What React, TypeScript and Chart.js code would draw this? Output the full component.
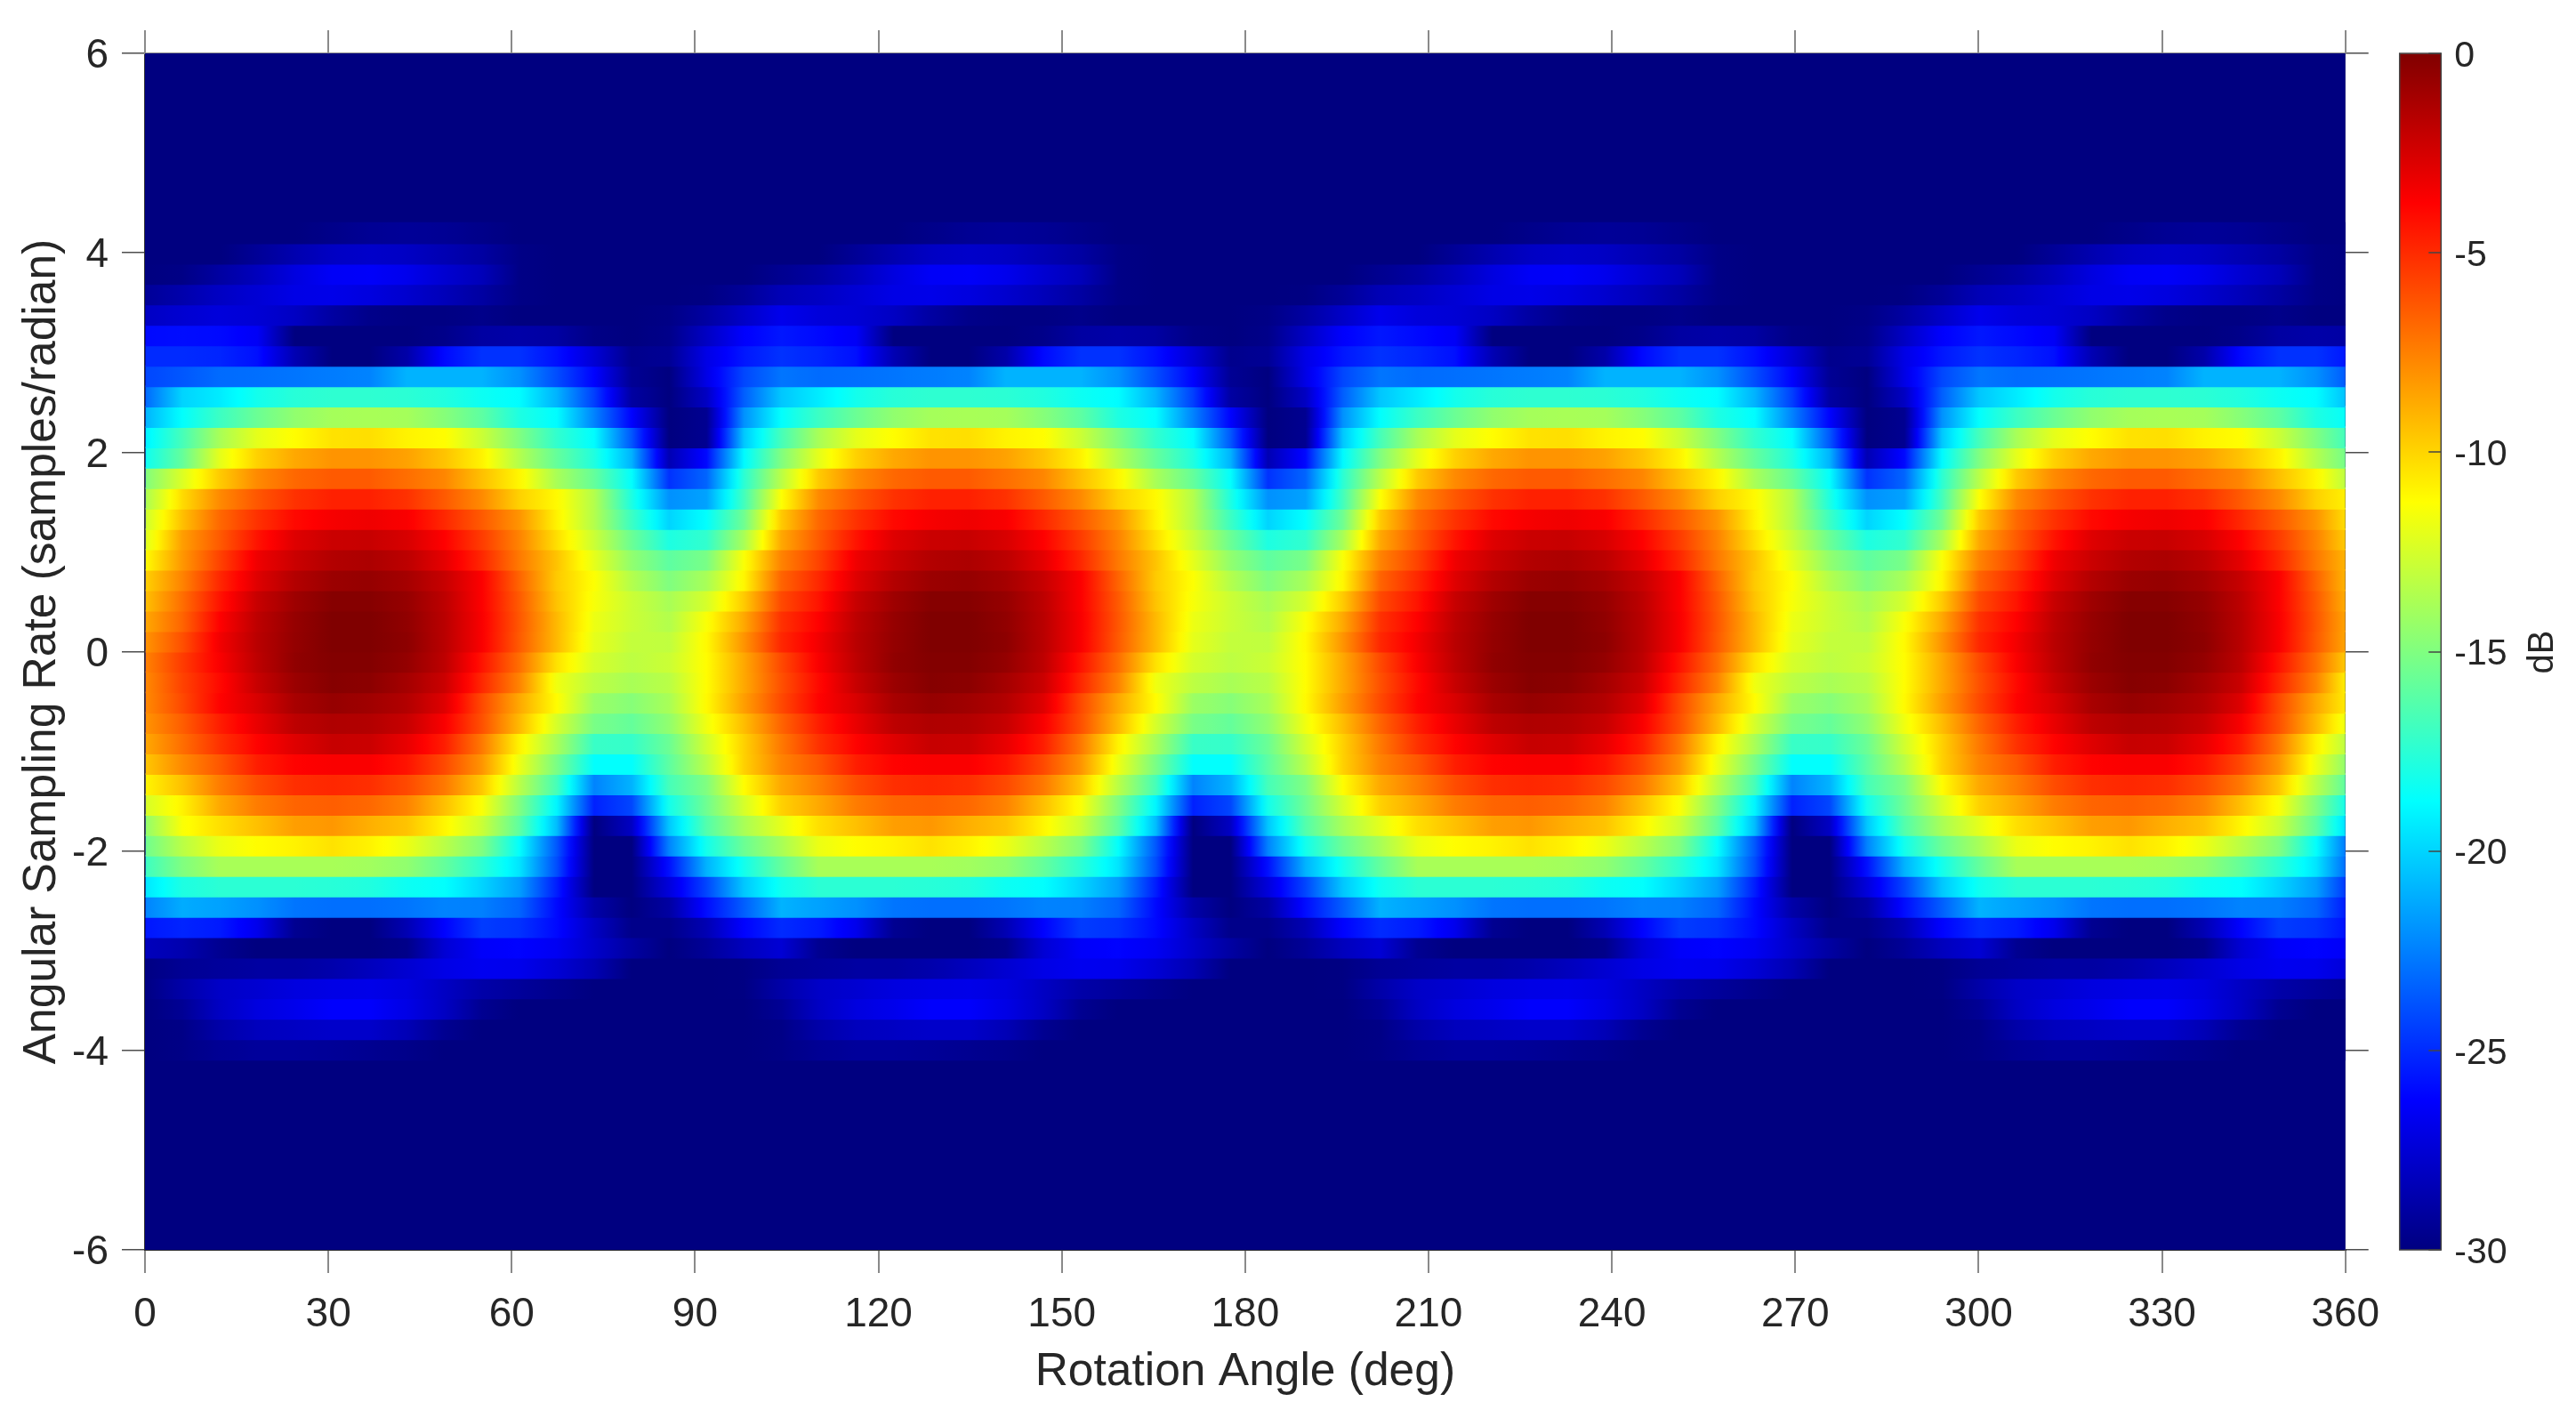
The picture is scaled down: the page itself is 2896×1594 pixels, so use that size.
// App.tsx - beam pattern heat map, drawn as one floating bar per sampling-rate row
import { useEffect, useRef } from 'react';
import { Chart, registerables } from 'chart.js';

Chart.register(...registerables);

const angles = [0, 6.125, 12.25, 18.375, 24.5, 30.625, 36.75, 42.875, 49, 55.125, 61.25, 67.375, 73.5, 79.625, 85.75, 91.875, 98, 104.125, 110.25, 116.375, 122.5, 128.625, 134.75, 140.875, 147, 153.125, 159.25, 165.375, 171.5, 177.625, 183.75, 189.875, 196, 202.125, 208.25, 214.375, 220.5, 226.625, 232.75, 238.875, 245, 251.125, 257.25, 263.375, 269.5, 275.625, 281.75, 287.875, 294, 300.125, 306.25, 312.375, 318.5, 324.625, 330.75, 336.875, 343, 349.125, 355.25, 361.375];

const rates = [4.196, 3.991, 3.787, 3.582, 3.377, 3.173, 2.968, 2.763, 2.559, 2.354, 2.149, 1.945, 1.74, 1.535, 1.331, 1.126, 0.921, 0.716, 0.512, 0.307, 0.102, -0.102, -0.307, -0.512, -0.716, -0.921, -1.126, -1.331, -1.535, -1.74, -1.945, -2.149, -2.354, -2.559, -2.763, -2.968, -3.173, -3.377, -3.582, -3.787, -3.991];

// dB below peak, one list per row, top row first
const row20 = [30,30,30,30,30,29.7,29.4,29.3,29.4,29.7,30,30,30,30,30,30, 30,30,30,30,30,29.7,29.4,29.3,29.4,29.7,30,30,30,30,30,30, 30,30,30,30,30,29.7,29.4,29.3,29.4,29.7,30,30,30,30,30,30, 30,30,30,30,30,29.7,29.4,29.3,29.4,29.7,30,30];
const row19 = [30,30,30,29.3,28.6,28,27.8,28,28.5,29,29.8,30,30,30,30,30, 30,30,30,29.3,28.6,28,27.8,28,28.5,29,29.8,30,30,30,30,30, 30,30,30,29.3,28.6,28,27.8,28,28.5,29,29.8,30,30,30,30,30, 30,30,30,29.3,28.6,28,27.8,28,28.5,29,29.8,30];
const row18 = [30,29.8,29,28.2,27.2,26.5,26.4,26.8,27.6,28.3,29.8,30,30,30,30,30, 30,29.5,29,28.2,27.2,26.5,26.4,26.8,27.6,28.3,29.8,30,30,30,30,30, 30,29.5,29,28.2,27.2,26.5,26.4,26.8,27.6,28.3,29.8,30,30,30,30,30, 30,29.5,29,28.2,27.2,26.5,26.4,26.8,27.6,28.3,29.8,30];
const row17 = [29.3,28.7,28,27.5,27,26.9,27.2,27.7,28.3,29,29.8,30,30,30,30,29.9, 29.3,28.4,28,27.5,27,26.9,27.2,27.7,28.3,29,29.8,30,30,30,30,29.9, 29.3,28.4,28,27.5,27,26.9,27.2,27.7,28.3,29,29.8,30,30,30,30,29.9, 29.3,28.4,28,27.5,27,26.9,27.2,27.7,28.3,29,29.8,30];
const row16 = [28,27.6,27.3,27.5,28,29,29.7,29.9,29.9,29.7,30,30,30,30,29.8,29, 27.9,26.8,27.3,27.5,28,29,29.7,29.9,29.9,29.7,30,30,30,30,29.8,29, 27.9,26.8,27.3,27.5,28,29,29.7,29.9,29.9,29.7,30,30,30,30,29.8,29, 27.9,26.8,27.3,27.5,28,29,29.7,29.9,29.9,29.7,30,30];
const row15 = [26,25.9,26,26.5,30,30,30,30,29.7,29,28.8,29,29.8,30,29.7,28, 26.3,25.6,26,26.5,30,30,30,30,29.7,29,28.8,29,29.8,30,29.7,28, 26.3,25.6,26,26.5,30,30,30,30,29.7,29,28.8,29,29.8,30,29.7,28, 26.3,25.6,26,26.5,30,30,30,30,29.7,29,28.8,29];
const row14 = [25,25,25.2,25.8,28.5,30,30,28.8,26,24.8,24.8,25.8,27.5,29.6,29.4,27, 25.6,24.8,25.2,25.8,28.5,30,30,28.8,26,24.8,24.8,25.8,27.5,29.6,29.4,27, 25.6,24.8,25.2,25.8,28.5,30,30,28.8,26,24.8,24.8,25.8,27.5,29.6,29.4,27, 25.6,24.8,25.2,25.8,28.5,30,30,28.8,26,24.8,24.8,25.8];
const row13 = [24.2,23.7,23.1,23,22.8,22.6,22.4,21,21,21,22,24,26.2,29.4,30,27, 24.2,22.8,23.1,23,22.8,22.6,22.4,21,21,21,22,24,26.2,29.4,30,27, 24.2,22.8,23.1,23,22.8,22.6,22.4,21,21,21,22,24,26.2,29.4,30,27, 24.2,22.8,23.1,23,22.8,22.6,22.4,21,21,21,22,24];
const row12 = [23.2,20,19.3,18.2,17.6,17.4,17.4,17.5,17.8,18.4,18.8,21,24.4,29,30,28, 23.5,20.4,19.3,18.2,17.6,17.4,17.4,17.5,17.8,18.4,18.8,21,24.4,29,30,28, 23.5,20.4,19.3,18.2,17.6,17.4,17.4,17.5,17.8,18.4,18.8,21,24.4,29,30,28, 23.5,20.4,19.3,18.2,17.6,17.4,17.4,17.5,17.8,18.4,18.8,21];
const row11 = [21,18.7,17,15.6,14.5,13.9,13.8,13.9,14.8,16,17.9,18.8,22.4,26.2,30,29.5, 22,18.7,17,15.6,14.5,13.9,13.8,13.9,14.8,16,17.9,18.8,22.4,26.2,30,29.5, 22,18.7,17,15.6,14.5,13.9,13.8,13.9,14.8,16,17.9,18.8,22.4,26.2,30,29.5, 22,18.7,17,15.6,14.5,13.9,13.8,13.9,14.8,16,17.9,18.8];
const row10 = [19.2,16.7,13.8,12,11.2,10.4,10.3,10.9,11.2,12.8,15,17.3,18.8,23.7,30,29.5, 20.4,16.7,13.8,12,11.2,10.4,10.3,10.9,11.2,12.8,15,17.3,18.8,23.7,30,29.5, 20.4,16.7,13.8,12,11.2,10.4,10.3,10.9,11.2,12.8,15,17.3,18.8,23.7,30,29.5, 20.4,16.7,13.8,12,11.2,10.4,10.3,10.9,11.2,12.8,15,17.3];
const row9 = [18.4,15.8,12,9.9,8.7,8.1,8.1,8.5,9.5,10.9,13.5,15.8,17.8,21,28.5,26, 18.9,15,12,9.9,8.7,8.1,8.1,8.5,9.5,10.9,13.5,15.8,17.8,21,28.5,26, 18.9,15,12,9.9,8.7,8.1,8.1,8.5,9.5,10.9,13.5,15.8,17.8,21,28.5,26, 18.9,15,12,9.9,8.7,8.1,8.1,8.5,9.5,10.9,13.5,15.8];
const row8 = [15,12.3,9.7,7.8,6.8,6.4,6.4,7,7.7,9.4,11,13.8,15.8,18.7,24.8,23.3, 17.5,13.3,9.7,7.8,6.8,6.4,6.4,7,7.7,9.4,11,13.8,15.8,18.7,24.8,23.3, 17.5,13.3,9.7,7.8,6.8,6.4,6.4,7,7.7,9.4,11,13.8,15.8,18.7,24.8,23.3, 17.5,13.3,9.7,7.8,6.8,6.4,6.4,7,7.7,9.4,11,13.8];
const row7 = [13.8,10.2,7.8,6.3,5.2,4.7,4.7,5.2,6.4,7.8,9.9,11.1,13.5,17.9,22,21.5, 16.8,11.3,7.8,6.3,5.2,4.7,4.7,5.2,6.4,7.8,9.9,11.1,13.5,17.9,22,21.5, 16.8,11.3,7.8,6.3,5.2,4.7,4.7,5.2,6.4,7.8,9.9,11.1,13.5,17.9,22,21.5, 16.8,11.3,7.8,6.3,5.2,4.7,4.7,5.2,6.4,7.8,9.9,11.1];
const row6 = [12.8,9.4,6.8,5.2,4,3.5,3.3,3.6,4.9,6.4,8.1,10.9,13.5,17,20,18.7, 15.5,9.7,6.8,5.2,4,3.5,3.3,3.6,4.9,6.4,8.1,10.9,13.5,17,20,18.7, 15.5,9.7,6.8,5.2,4,3.5,3.3,3.6,4.9,6.4,8.1,10.9,13.5,17,20,18.7, 15.5,9.7,6.8,5.2,4,3.5,3.3,3.6,4.9,6.4,8.1,10.9];
const row5 = [12.3,8.4,6.4,4.3,2.8,2.2,2.1,2.6,3.75,5.5,7.6,10.3,12.8,15.6,17.9,17.3, 13.8,8.7,6.4,4.3,2.8,2.2,2.1,2.6,3.75,5.5,7.6,10.3,12.8,15.6,17.9,17.3, 13.8,8.7,6.4,4.3,2.8,2.2,2.1,2.6,3.75,5.5,7.6,10.3,12.8,15.6,17.9,17.3, 13.8,8.7,6.4,4.3,2.8,2.2,2.1,2.6,3.75,5.5,7.6,10.3];
const row4 = [11.2,8.2,5.7,3.3,2.2,1.5,1.3,1.8,3,4.9,7.3,9.5,12,14.5,16,15.2, 11.4,7.6,5.7,3.3,2.2,1.5,1.3,1.8,3,4.9,7.3,9.5,12,14.5,16,15.2, 11.4,7.6,5.7,3.3,2.2,1.5,1.3,1.8,3,4.9,7.3,9.5,12,14.5,16,15.2, 11.4,7.6,5.7,3.3,2.2,1.5,1.3,1.8,3,4.9,7.3,9.5];
const row3 = [9.9,7.6,4.9,2.8,1.5,.8,.65,1.1,2.1,3.7,6.7,9.7,11.3,13.5,15,13.8, 11,6.7,4.9,2.8,1.5,.8,.65,1.1,2.1,3.7,6.7,9.7,11.3,13.5,15,13.8, 11,6.7,4.9,2.8,1.5,.8,.65,1.1,2.1,3.7,6.7,9.7,11.3,13.5,15,13.8, 11,6.7,4.9,2.8,1.5,.8,.65,1.1,2.1,3.7,6.7,9.7];
const row2 = [9.4,7,4.3,2.1,.9,.2,.2,.65,1.8,3.7,6.4,9.5,11.5,12.8,13.8,12.5, 9.7,5.9,4.3,2.1,.9,.2,.2,.65,1.8,3.7,6.4,9.5,11.5,12.8,13.8,12.5, 9.7,5.9,4.3,2.1,.9,.2,.2,.65,1.8,3.7,6.4,9.5,11.5,12.8,13.8,12.5, 9.7,5.9,4.3,2.1,.9,.2,.2,.65,1.8,3.7,6.4,9.5];
const row1 = [8.7,6.7,3.75,1.8,.65,0,0,.5,1.7,3.6,6.3,9.2,11.8,12.8,13.5,11.4, 8.7,5.2,3.75,1.8,.65,0,0,.5,1.7,3.6,6.3,9.2,11.8,12.8,13.5,11.4, 8.7,5.2,3.75,1.8,.65,0,0,.5,1.7,3.6,6.3,9.2,11.8,12.8,13.5,11.4, 8.7,5.2,3.75,1.8,.65,0,0,.5,1.7,3.6,6.3,9.2];
const row0 = [8.1,6.1,3.4,1.7,.6,0,0,.4,1.7,3.6,6.4,9.2,12,13,13.1,11.1, 8.1,4.9,3.4,1.7,.6,0,0,.4,1.7,3.6,6.4,9.2,12,13,13.1,11.1, 8.1,4.9,3.4,1.7,.6,0,0,.4,1.7,3.6,6.4,9.2,12,13,13.1,11.1, 8.1,4.9,3.4,1.7,.6,0,0,.4,1.7,3.6,6.4,9.2];
const rowM1 = [7.6,5.5,3.6,1.8,.5,.1,.1,.6,1.8,4.3,7,10.4,12.5,13.2,12.8,11.2, 8.7,5.9,3.6,1.8,.5,.1,.1,.6,1.8,4.3,7,10.4,12.5,13.2,12.8,11.2, 8.7,5.9,3.6,1.8,.5,.1,.1,.6,1.8,4.3,7,10.4,12.5,13.2,12.8,11.2, 8.7,5.9,3.6,1.8,.5,.1,.1,.6,1.8,4.3,7,10.4];
const rowM2 = [7.8,5.7,4,2.1,.8,.2,.35,1.1,2.2,4.9,7.6,11.7,13.2,13.8,13.3,11.2, 8.7,6.1,4,2.1,.8,.2,.35,1.1,2.2,4.9,7.6,11.7,13.2,13.8,13.3,11.2, 8.7,6.1,4,2.1,.8,.2,.35,1.1,2.2,4.9,7.6,11.7,13.2,13.8,13.3,11.2, 8.7,6.1,4,2.1,.8,.2,.35,1.1,2.2,4.9,7.6,11.7];
const rowM3 = [7.8,5.9,3.8,2.6,1.2,.65,.95,1.5,2.8,5.9,8.7,11.2,14.2,14.8,13.8,11.1, 8.4,5.9,3.8,2.6,1.2,.65,.95,1.5,2.8,5.9,8.7,11.2,14.2,14.8,13.8,11.1, 8.4,5.9,3.8,2.6,1.2,.65,.95,1.5,2.8,5.9,8.7,11.2,14.2,14.8,13.8,11.1, 8.4,5.9,3.8,2.6,1.2,.65,.95,1.5,2.8,5.9,8.7,11.2];
const rowM4 = [8.1,6.5,4.6,3.1,1.8,1.4,1.5,2.1,3.6,6.1,9.2,12.5,15.2,15.8,14.5,11.7, 9.3,6.7,4.6,3.1,1.8,1.4,1.5,2.1,3.6,6.1,9.2,12.5,15.2,15.8,14.5,11.7, 9.3,6.7,4.6,3.1,1.8,1.4,1.5,2.1,3.6,6.1,9.2,12.5,15.2,15.8,14.5,11.7, 9.3,6.7,4.6,3.1,1.8,1.4,1.5,2.1,3.6,6.1,9.2,12.5];
const rowM5 = [8.7,7,5.2,3.8,2.8,2.1,2.2,3.1,4.6,7.3,10.9,13.8,17.1,17.2,15.6,12.6, 9.9,7.3,5.2,3.8,2.8,2.1,2.2,3.1,4.6,7.3,10.9,13.8,17.1,17.2,15.6,12.6, 9.9,7.3,5.2,3.8,2.8,2.1,2.2,3.1,4.6,7.3,10.9,13.8,17.1,17.2,15.6,12.6, 9.9,7.3,5.2,3.8,2.8,2.1,2.2,3.1,4.6,7.3,10.9,13.8];
const rowM6 = [9.6,7.8,6.3,4.6,3.8,3.6,3.6,4.3,5.9,8.1,11.8,15.2,18.7,18.7,16,13.3, 9.9,7.6,6.3,4.6,3.8,3.6,3.6,4.3,5.9,8.1,11.8,15.2,18.7,18.7,16,13.3, 9.9,7.6,6.3,4.6,3.8,3.6,3.6,4.3,5.9,8.1,11.8,15.2,18.7,18.7,16,13.3, 9.9,7.6,6.3,4.6,3.8,3.6,3.6,4.3,5.9,8.1,11.8,15.2];
const rowM7 = [11,9.4,7.4,6,5.1,4.9,5.1,5.9,7.3,9.6,13.3,16.7,22.4,21,16.7,15, 11.2,8.7,7.4,6,5.1,4.9,5.1,5.9,7.3,9.6,13.3,16.7,22.4,21,16.7,15, 11.2,8.7,7.4,6,5.1,4.9,5.1,5.9,7.3,9.6,13.3,16.7,22.4,21,16.7,15, 11.2,8.7,7.4,6,5.1,4.9,5.1,5.9,7.3,9.6,13.3,16.7];
const rowM8 = [12.5,10.9,8.7,7.4,6.7,6.5,6.8,7.6,9.4,11.4,15,19,25.3,24.2,18.2,15.5, 12.5,9.9,8.7,7.4,6.7,6.5,6.8,7.6,9.4,11.4,15,19,25.3,24.2,18.2,15.5, 12.5,9.9,8.7,7.4,6.7,6.5,6.8,7.6,9.4,11.4,15,19,25.3,24.2,18.2,15.5, 12.5,9.9,8.7,7.4,6.7,6.5,6.8,7.6,9.4,11.4,15,19];
const rowM9 = [14.5,11.4,10.3,9.4,8.4,8.2,8.9,9.5,11,12.8,16,20.7,30,28,20.4,16.3, 13.8,12,10.3,9.4,8.4,8.2,8.9,9.5,11,12.8,16,20.7,30,28,20.4,16.3, 13.8,12,10.3,9.4,8.4,8.2,8.9,9.5,11,12.8,16,20.7,30,28,20.4,16.3, 13.8,12,10.3,9.4,8.4,8.2,8.9,9.5,11,12.8,16,20.7];
const rowM10 = [15.5,13.3,11.8,11.2,10.9,10.4,10.9,11.8,13.3,15,18.7,23.7,30,30,22.4,18.2, 15.6,13.8,11.8,11.2,10.9,10.4,10.9,11.8,13.3,15,18.7,23.7,30,30,22.4,18.2, 15.6,13.8,11.8,11.2,10.9,10.4,10.9,11.8,13.3,15,18.7,23.7,30,30,22.4,18.2, 15.6,13.8,11.8,11.2,10.9,10.4,10.9,11.8,13.3,15,18.7,23.7];
const rowM11 = [17,15,13.8,13.8,13.8,13.8,14,14.5,15.8,17.5,19.5,24,30,30,25.8,21, 18.2,15.8,13.8,13.8,13.8,13.8,14,14.5,15.8,17.5,19.5,24,30,30,25.8,21, 18.2,15.8,13.8,13.8,13.8,13.8,14,14.5,15.8,17.5,19.5,24,30,30,25.8,21, 18.2,15.8,13.8,13.8,13.8,13.8,14,14.5,15.8,17.5,19.5,24];
const rowM12 = [19.5,17.9,17.5,17.5,17.5,17.6,17.8,18.4,18.7,20,21.6,25.4,30,30,27.3,24.2, 20.4,18.3,17.5,17.5,17.5,17.6,17.8,18.4,18.7,20,21.6,25.4,30,30,27.3,24.2, 20.4,18.3,17.5,17.5,17.5,17.6,17.8,18.4,18.7,20,21.6,25.4,30,30,27.3,24.2, 20.4,18.3,17.5,17.5,17.5,17.6,17.8,18.4,18.7,20,21.6,25.4];
const rowM13 = [22.4,21.2,21.5,22,22.8,23,23,22.8,22.4,22.5,23.3,26,28.8,30,29,25.9, 23.5,21,21.5,22,22.8,23,23,22.8,22.4,22.5,23.3,26,28.8,30,29,25.9, 23.5,21,21.5,22,22.8,23,23,22.8,22.4,22.5,23.3,26,28.8,30,29,25.9, 23.5,21,21.5,22,22.8,23,23,22.8,22.4,22.5,23.3,26];
const rowM14 = [25.6,25.2,25.5,26.8,29.5,30,30,28.5,26.2,24.5,24.8,26,28,29.7,29.7,28.5, 26.2,25,25.5,26.8,29.5,30,30,28.5,26.2,24.5,24.8,26,28,29.7,29.7,28.5, 26.2,25,25.5,26.8,29.5,30,30,28.5,26.2,24.5,24.8,26,28,29.7,29.7,28.5, 26.2,25,25.5,26.8,29.5,30,30,28.5,26.2,24.5,24.8,26];
const rowM15 = [28.2,28.6,29.5,30,30,30,30,29.7,27.5,26.4,26.2,26.6,27.8,29,30,29.3, 28.2,27.5,29.5,30,30,30,30,29.7,27.5,26.4,26.2,26.6,27.8,29,30,29.3, 28.2,27.5,29.5,30,30,30,30,29.7,27.5,26.4,26.2,26.6,27.8,29,30,29.3, 28.2,27.5,29.5,30,30,30,30,29.7,27.5,26.4,26.2,26.6];
const rowM16 = [29.9,29.4,29.2,29,29,28.7,28.2,27.6,27,26.7,26.8,27.5,28.5,30,30,30, 29.9,29.4,29.2,29,29,28.7,28.2,27.6,27,26.7,26.8,27.5,28.5,30,30,30, 29.9,29.4,29.2,29,29,28.7,28.2,27.6,27,26.7,26.8,27.5,28.5,30,30,30, 29.9,29.4,29.2,29,29,28.7,28.2,27.6,27,26.7,26.8,27.5];
const rowM17 = [29.9,28.8,27.9,27.6,27.2,27,26.9,27.2,28,28.8,29.2,29.6,30,30,30,30, 29.9,28.8,27.9,27.6,27.2,27,26.9,27.2,28,28.8,29.2,29.6,30,30,30,30, 29.9,28.8,27.9,27.6,27.2,27,26.9,27.2,28,28.8,29.2,29.6,30,30,30,30, 29.9,28.8,27.9,27.6,27.2,27,26.9,27.2,28,28.8,29.2,29.6];
const rowM18 = [30,29.4,28,27.2,26.8,26.3,26.3,27,28,29.5,30,30,30,30,30,30, 30,29.4,28,27.2,26.8,26.3,26.3,27,28,29.5,30,30,30,30,30,30, 30,29.4,28,27.2,26.8,26.3,26.3,27,28,29.5,30,30,30,30,30,30, 30,29.4,28,27.2,26.8,26.3,26.3,27,28,29.5,30,30];
const rowM19 = [30,29.8,28.8,28.2,28,27.8,27.8,28.4,29.5,30,30,30,30,30,30,30, 30,29.8,28.8,28.2,28,27.8,27.8,28.4,29.5,30,30,30,30,30,30,30, 30,29.8,28.8,28.2,28,27.8,27.8,28.4,29.5,30,30,30,30,30,30,30, 30,29.8,28.8,28.2,28,27.8,27.8,28.4,29.5,30,30,30];
const rowM20 = [30,29.8,29.4,29.2,29.2,29.3,29.5,29.7,30,30,30,30,30,30,30,30, 30,29.8,29.4,29.2,29.2,29.3,29.5,29.7,30,30,30,30,30,30,30,30, 30,29.8,29.4,29.2,29.2,29.3,29.5,29.7,30,30,30,30,30,30,30,30, 30,29.8,29.4,29.2,29.2,29.3,29.5,29.7,30,30,30,30];

const rows = [row20, row19, row18, row17, row16, row15, row14, row13, row12, row11, row10, row9, row8, row7, row6, row5, row4, row3, row2, row1, row0, rowM1, rowM2, rowM3, rowM4, rowM5, rowM6, rowM7, rowM8, rowM9, rowM10, rowM11, rowM12, rowM13, rowM14, rowM15, rowM16, rowM17, rowM18, rowM19, rowM20];

const FONT = 'Arial, "Liberation Sans", sans-serif';
const TEXT = '#262626';

// MATLAB jet, dB range -30..0
function jet(db: number) {
  const t = Math.min(1, Math.max(0, (db + 30) / 30));
  const ch = (v: number) => Math.round(255 * Math.min(1, Math.max(0, v)));
  const r = ch(Math.min(4 * t - 1.5, -4 * t + 4.5));
  const g = ch(Math.min(4 * t - 0.5, -4 * t + 3.5));
  const b = ch(Math.min(4 * t + 0.5, -4 * t + 2.5));
  return `rgb(${r},${g},${b})`;
}

// shaded row: the colour runs through the colormap between two neighbouring samples
function rowGradient(chart: Chart, down: number[]) {
  const x = chart.scales.x;
  if (!x) return jet(-30);
  const last = angles[angles.length - 1];
  const x0 = x.getPixelForValue(0);
  const x1 = x.getPixelForValue(last);
  if (!Number.isFinite(x0) || !Number.isFinite(x1)) return jet(-30);
  const g = chart.ctx.createLinearGradient(x0, 0, x1, 0);
  const steps = 6;
  for (let i = 0; i < down.length - 1; i++) {
    for (let s = 0; s < steps; s++) {
      const f = s / steps;
      const a = angles[i] + (angles[i + 1] - angles[i]) * f;
      g.addColorStop(a / last, jet(-(down[i] + (down[i + 1] - down[i]) * f)));
    }
  }
  g.addColorStop(1, jet(-down[down.length - 1]));
  return g;
}

const plotBackground = {
  id: 'plotBackground',
  beforeDatasetsDraw(chart: Chart) {
    const { ctx, chartArea: a } = chart;
    ctx.save();
    ctx.fillStyle = jet(-30);
    ctx.fillRect(a.left, a.top, a.right - a.left, a.bottom - a.top);
    ctx.restore();
  },
};

const colorbarMarks = {
  id: 'colorbarMarks',
  afterDraw(chart: Chart) {
    const { ctx, chartArea: a } = chart;
    const y = chart.scales.y;
    ctx.save();
    ctx.lineWidth = 1.5;
    ctx.strokeStyle = '#444444';
    for (const t of y.ticks) {
      const py = Math.round(y.getPixelForValue(t.value));
      ctx.beginPath();
      ctx.moveTo(a.right - 14, py);
      ctx.lineTo(a.right, py);
      ctx.stroke();
    }
    ctx.strokeRect(a.left, a.top, a.right - a.left, a.bottom - a.top);
    // canvas starts at x = 2660 on the page
    ctx.translate(199, 733);
    ctx.rotate(-Math.PI / 2);
    ctx.fillStyle = TEXT;
    ctx.font = `40px ${FONT}`;
    ctx.textAlign = 'center';
    ctx.textBaseline = 'middle';
    ctx.fillText('dB', 0, 0);
    ctx.restore();
  },
};

export default function App() {
  const plotRef = useRef<HTMLCanvasElement>(null);
  const barRef = useRef<HTMLCanvasElement>(null);

  useEffect(() => {
    if (!plotRef.current || !barRef.current) return;
    document.body.style.margin = '0';
    document.body.style.background = '#ffffff';

    const plot = new Chart(plotRef.current, {
      type: 'bar',
      data: {
        datasets: rows.map((down, i) => ({
          data: [{ x: [0, 360], y: rates[i] }],
          backgroundColor: (c: any) => rowGradient(c.chart, down),
          barThickness: 24,
          borderWidth: 0,
          grouped: false,
        })) as any,
      },
      options: {
        indexAxis: 'y',
        animation: false,
        responsive: false,
        devicePixelRatio: 1,
        events: [],
        layout: { padding: 0 },
        plugins: { legend: { display: false }, tooltip: { enabled: false } },
        scales: {
          x: {
            type: 'linear',
            min: 0,
            max: 360,
            position: 'bottom',
            afterFit: (s: any) => { s.height = 189; },
            ticks: { stepSize: 30, autoSkip: false, maxRotation: 0, padding: 20, color: TEXT, font: { family: FONT, size: 46 } },
            grid: { drawOnChartArea: false, tickLength: 26, color: '#8a8a8a', lineWidth: 2 },
            border: { color: '#333333', width: 2 },
            title: { display: true, text: 'Rotation Angle (deg)', color: TEXT, font: { family: FONT, size: 51.5 }, padding: { top: 0, bottom: 20 } },
          },
          y: {
            type: 'linear',
            min: -6,
            max: 6,
            position: 'left',
            offset: false,
            afterFit: (s: any) => { s.width = 163; },
            ticks: { stepSize: 2, autoSkip: false, padding: 15, labelOffset: 3.5, color: TEXT, font: { family: FONT, size: 46 } },
            grid: { offset: false, drawOnChartArea: false, tickLength: 26, color: '#4d4d4d', lineWidth: 1.5 },
            border: { color: '#333333', width: 2 },
            title: { display: true, text: 'Angular Sampling Rate (samples/radian)', color: TEXT, font: { family: FONT, size: 51.5 }, padding: { top: 17, bottom: 0 } },
          },
          xTop: {
            type: 'linear',
            min: 0,
            max: 360,
            position: 'top',
            afterFit: (s: any) => { s.height = 60; },
            ticks: { stepSize: 30, display: false },
            grid: { drawOnChartArea: false, tickLength: 26, color: '#8a8a8a', lineWidth: 2 },
            border: { color: '#8a8a8a', width: 2 },
          },
          yRight: {
            type: 'linear',
            min: -6,
            max: 6,
            position: 'right',
            offset: false,
            afterFit: (s: any) => { s.width = 259.3; },
            ticks: { stepSize: 2, display: false },
            grid: { offset: false, drawOnChartArea: false, tickLength: 26, color: '#4d4d4d', lineWidth: 1.5 },
            border: { color: '#8a8a8a', width: 1 },
          },
        },
      } as any,
      plugins: [plotBackground],
    });

    const colorbar = new Chart(barRef.current, {
      type: 'bar',
      data: {
        labels: ['dB'],
        datasets: [
          {
            data: [[-30, 0]],
            backgroundColor: (c: any) => {
              const y = c.chart.scales.y;
              if (!y) return jet(-30);
              const y0 = y.getPixelForValue(-30);
              const y1 = y.getPixelForValue(0);
              if (!Number.isFinite(y0) || !Number.isFinite(y1)) return jet(-30);
              const g = c.chart.ctx.createLinearGradient(0, y0, 0, y1);
              for (let i = 0; i <= 8; i++) g.addColorStop(i / 8, jet(-30 + (30 * i) / 8));
              return g;
            },
            categoryPercentage: 1,
            barPercentage: 1,
            borderWidth: 0,
          },
        ],
      } as any,
      options: {
        animation: false,
        responsive: false,
        devicePixelRatio: 1,
        events: [],
        layout: { padding: { left: 37.7, top: 60, bottom: 189 } },
        plugins: { legend: { display: false }, tooltip: { enabled: false } },
        scales: {
          x: { display: false },
          y: {
            type: 'linear',
            min: -30,
            max: 0,
            position: 'right',
            afterFit: (s: any) => { s.width = 151.7; },
            ticks: { stepSize: 5, padding: 15, labelOffset: 3.5, color: TEXT, font: { family: FONT, size: 41 } },
            grid: { drawOnChartArea: false, drawTicks: false, tickLength: 0 },
            border: { display: false },
          },
        },
      } as any,
      plugins: [colorbarMarks],
    });

    return () => {
      plot.destroy();
      colorbar.destroy();
    };
  }, []);

  return (
    <div style={{ position: 'relative', width: 2896, height: 1594, background: '#ffffff', overflow: 'hidden' }}>
      <canvas ref={plotRef} width={2896} height={1594} style={{ position: 'absolute', left: 0, top: 0 }} />
      <canvas ref={barRef} width={236} height={1594} style={{ position: 'absolute', left: 2660, top: 0 }} />
    </div>
  );
}
